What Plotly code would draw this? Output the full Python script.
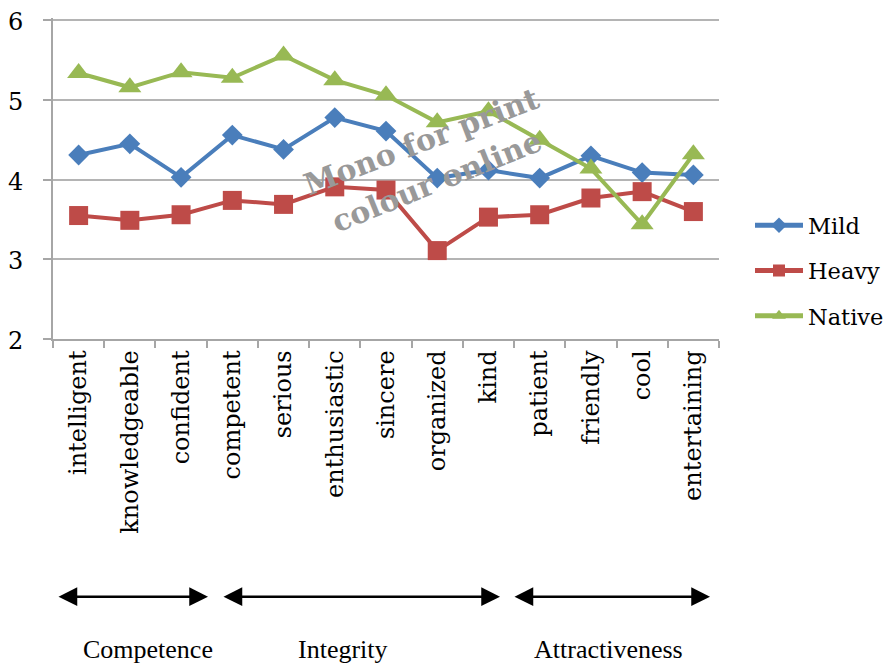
import plotly.graph_objects as go

categories = ["intelligent", "knowledgeable", "confident", "competent", "serious",
              "enthusiastic", "sincere", "organized", "kind", "patient",
              "friendly", "cool", "entertaining"]
mild = [4.31, 4.45, 4.03, 4.56, 4.38, 4.78, 4.61, 4.02, 4.12, 4.02, 4.30, 4.09, 4.06]
heavy = [3.55, 3.49, 3.56, 3.74, 3.69, 3.91, 3.87, 3.11, 3.53, 3.56, 3.77, 3.85, 3.60]
native = [5.34, 5.16, 5.35, 5.28, 5.56, 5.25, 5.06, 4.72, 4.86, 4.50, 4.14, 3.44, 4.32]
y_ticks = [2, 3, 4, 5, 6]
groups = ["Competence", "Integrity", "Attractiveness"]

SERIF = "DejaVu Serif"

fig = go.Figure()
series = [
    ("Mild", mild, "#4a7ebb", "diamond", 16),
    ("Heavy", heavy, "#be4b48", "square", 19),
    ("Native", native, "#98b954", "triangle-up", 20),
]
for name, vals, col, sym, sz in series:
    fig.add_trace(go.Scatter(
        x=categories, y=vals, name=name, mode="lines+markers",
        legendgroup=name,
        line=dict(color=col, width=4),
        marker=dict(symbol=sym, size=sz, color=col, line=dict(width=0)),
    ))

# page body has an 8px margin: work in page coordinates and shift
OFF = 8
W, H = 894 - OFF, 665 - OFF
YMIN, YMAX = 2, 6.03
unit = (339 - 20) / 4.0
top_page = 339 - unit * (YMAX - YMIN)
L, T = 53 - OFF, top_page - OFF
R = W - (719 - OFF)
B = H - (339 - OFF)
pw, ph = W - L - R, H - T - B

def px(xp):
    return (xp - OFF - L) / pw

def py(yp):
    return (H - B - (yp - OFF)) / ph

annotations = []
# y tick labels (placed on the y axis scale)
for v in y_ticks:
    annotations.append(dict(
        xref="paper", yref="y", x=px(24), y=v, text=str(v),
        showarrow=False, xanchor="right", yanchor="middle", yshift=-2,
        borderpad=0,
        font=dict(family=SERIF, size=24, color="black"),
    ))
# double-headed arrows
arrows = [(57, 208), (222, 500), (513, 710)]
for x0, x1 in arrows:
    annotations.append(dict(
        xref="paper", yref="paper", x=px(x1), y=py(597),
        ax=x0 - x1, ay=0, axref="pixel", ayref="pixel",
        text="", showarrow=True, arrowhead=2, startarrowhead=2,
        arrowside="end+start", arrowsize=1.5, startarrowsize=1.5,
        arrowwidth=2.5, arrowcolor="black", standoff=0, startstandoff=0,
    ))
centers = [148, 343, 608]
for g, cx in zip(groups, centers):
    annotations.append(dict(
        xref="paper", yref="paper", x=px(cx), y=py(650),
        text=g, showarrow=False, xanchor="center", yanchor="middle",
        font=dict(family="Liberation Serif", size=26, color="black"),
    ))
# watermark
annotations.append(dict(
    xref="paper", yref="paper", x=px(421), y=py(141), text="Mono for print",
    showarrow=False, textangle=-21, xanchor="center", yanchor="middle",
    font=dict(family=SERIF, size=30, color="#999999", weight="bold"),
))
annotations.append(dict(
    xref="paper", yref="paper", x=px(436), y=py(181), text="colour online",
    showarrow=False, textangle=-22, xanchor="center", yanchor="middle",
    font=dict(family=SERIF, size=30, color="#999999", weight="bold"),
))

fig.update_layout(
    width=W, height=H,
    margin=dict(l=L, r=R, t=T, b=B, pad=0, autoexpand=False),
    plot_bgcolor="white", paper_bgcolor="white",
    font=dict(family=SERIF, color="black"),
    showlegend=True,
    legend=dict(
        x=px(750), y=py(204), xanchor="left", yanchor="top",
        font=dict(family=SERIF, size=22.5, color="black"),
        traceorder="grouped", tracegroupgap=13, itemwidth=48,
        itemsizing="constant",
        bgcolor="rgba(0,0,0,0)",
    ),
    annotations=annotations,
)
fig.update_xaxes(
    type="category", showgrid=False, showline=True, linecolor="#a6a6a6", linewidth=1.5,
    ticks="outside", tickson="boundaries", ticklen=7, tickcolor="#a6a6a6", tickwidth=1.5,
    tickangle=-90, tickfont=dict(family=SERIF, size=24, color="black"),
    range=[-0.5, len(categories) - 0.5],
)
fig.update_yaxes(
    range=[YMIN, YMAX], tickvals=y_ticks, showticklabels=False,
    showgrid=True, gridcolor="#b4b4b4", gridwidth=1.5,
    showline=True, linecolor="#a6a6a6", linewidth=1.5, zeroline=False,
    ticks="outside", ticklen=8, tickcolor="#a6a6a6", tickwidth=1.5,
)

fig.write_html("out.html")
